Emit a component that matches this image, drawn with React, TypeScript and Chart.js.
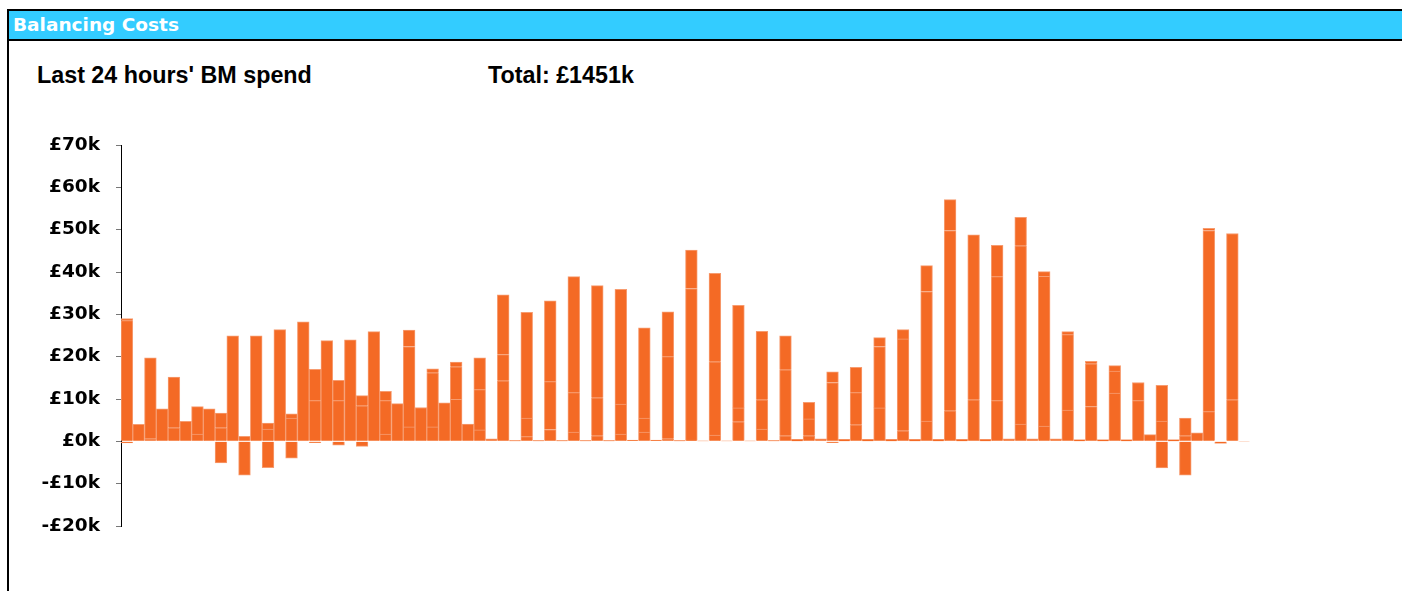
import React, { useEffect, useRef } from "react";
import { Chart, registerables } from "chart.js";

Chart.register(...registerables);

// 96 bars over the last 24 hours (values in £k)
const periods: string[] = Array.from({ length: 96 }, (_, i) => String(i + 1));

// stacked components (bottom, middle, top) and negative spend, £k
const segBottom: (number | null)[] = [
  28.5, 4.0, 0.6, 7.7, 3.2, 4.7, 1.7, 7.7, 3.2, 24.9, 1.2, 24.9, 2.9, 26.4, 5.5, 28.2,
  9.6, 23.8, 9.6, 24.0, 8.4, 25.9, 1.7, 8.9, 3.4, 8.0, 3.4, 9.1, 9.9, 4.1, 2.7, 0.6,
  14.3, 0.2, 1.1, 0.2, 2.8, 0.2, 2.2, 0.2, 1.3, 0.2, 1.7, 0.3, 2.2, 0.3, 0.6, 0.2,
  0.3, 0.1, 1.5, 0.1, 4.6, 0.1, 2.9, 0.2, 1.3, 0.5, 1.3, 0.6, 13.9, 0.5, 3.9, 0.5,
  7.9, 0.5, 2.5, 0.5, 4.8, 0.5, 7.2, 0.5, 9.8, 0.5, 9.6, 0.6, 4.1, 0.6, 3.6, 0.6,
  7.4, 0.4, 8.2, 0.4, 11.4, 0.4, 9.6, 1.6, 4.8, 0.4, 1.3, 2.0, 7.0, null, 9.8, null,
];

const segMiddle: (number | null)[] = [
  0.5, null, 19.1, null, 12.0, null, 6.5, null, 3.5, null, null, null, 1.4, null, 1.0, null,
  7.4, null, 4.8, null, 2.4, null, 7.9, null, 19.0, null, 12.8, null, 7.7, null, 9.5, null,
  6.2, null, 4.4, null, 11.3, null, 9.3, null, 9.0, null, 7.1, null, 3.3, null, 19.4, null,
  35.8, null, 17.3, null, 3.3, null, 6.9, null, 15.6, null, 4.0, null, 2.5, null, 7.6, null,
  14.5, null, 21.7, null, 30.6, null, 42.6, null, 39.0, null, 29.3, null, 42.1, null, 35.4, null,
  17.8, null, 10.1, null, 5.2, null, 4.3, null, 8.4, null, 4.2, null, 42.8, null, 39.3, null,
];

const segTop: (number | null)[] = [
  null, null, null, null, null, null, null, null, null, null, null, null, null, null, null, null,
  null, null, null, null, null, null, 2.2, null, 3.9, null, 0.9, null, 1.1, null, 7.5, null,
  14.1, null, 25.0, null, 19.1, null, 27.4, null, 26.5, null, 27.1, null, 21.3, null, 10.6, null,
  9.1, null, 20.9, null, 24.2, null, 16.2, null, 8.0, null, 3.9, null, null, null, 6.0, null,
  2.1, null, 2.2, null, 6.1, null, 7.3, null, null, null, 7.4, null, 6.7, null, 1.1, null,
  0.7, null, 0.6, null, 1.3, null, null, null, null, null, null, null, 0.5, null, null, null,
];

const segNegative: (number | null)[] = [
  -0.4, null, null, null, null, null, null, null, -5.1, null, -8.0, null, -6.2, null, -4.0, null,
  -0.3, null, -0.9, null, -1.2, null, null, null, null, null, null, null, null, null, null, null,
  null, null, null, null, null, null, null, null, null, null, null, null, null, null, null, null,
  null, null, null, null, null, null, null, null, null, null, null, null, -0.3, null, null, null,
  null, null, null, null, null, null, null, null, null, null, null, null, null, null, null, null,
  null, null, null, null, null, null, null, null, -6.3, null, -8.0, null, null, -0.5, null, -0.1,
];

const yTicks: number[] = [-20, -10, 0, 10, 20, 30, 40, 50, 60, 70];

const BAR = "#F46A25";
const EDGE = "#F79C70";

function fmt(v: number): string {
  return v < 0 ? `-£${-v}k` : `£${v}k`;
}

function BMChart() {
  const ref = useRef<HTMLCanvasElement | null>(null);
  useEffect(() => {
    if (!ref.current) return;
    const mk = (label: string, data: (number | null)[]) => ({
      label,
      data,
      backgroundColor: BAR,
      borderColor: EDGE,
      borderWidth: 1,
      borderSkipped: "start" as const,
      categoryPercentage: 1,
      barPercentage: 1,
    });
    const chart = new Chart(ref.current, {
      type: "bar",
      data: {
        labels: periods,
        datasets: [
          mk("bottom", segBottom),
          mk("middle", segMiddle),
          mk("top", segTop),
          mk("negative", segNegative),
        ],
      },
      options: {
        responsive: false,
        animation: false,
        layout: { padding: { left: 0, right: 152, top: 145, bottom: 65 } },
        plugins: { legend: { display: false }, tooltip: { enabled: false } },
        scales: {
          x: { stacked: true, display: false },
          y: {
            stacked: true,
            min: yTicks[0],
            max: yTicks[yTicks.length - 1],
            afterFit: (s: any) => {
              s.width = 121;
            },
            afterBuildTicks: (s: any) => {
              s.ticks = yTicks.map((v) => ({ value: v }));
            },
            ticks: {
              callback: (v: any) => fmt(Number(v)),
              color: "#000",
              padding: 16,
              font: { family: "DejaVu Sans", size: 18.5, weight: "bold" },
            },
            grid: {
              drawOnChartArea: false,
              drawTicks: true,
              tickLength: 5,
              color: "#777",
            },
            border: { display: true, color: "#000", width: 1 },
          },
        },
      },
    });
    return () => chart.destroy();
  }, []);
  return (
    <canvas
      ref={ref}
      width={1402}
      height={591}
      style={{ position: "absolute", left: 0, top: 0, width: 1402, height: 591 }}
    />
  );
}

export default function App() {
  return (
    <div>
      <div
        style={{
          position: "absolute",
          left: 7,
          top: 9,
          width: 1395,
          height: 582,
          boxSizing: "border-box",
          borderTop: "2px solid #000",
          borderLeft: "2px solid #000",
          background: "#fff",
        }}
      />
      <div
        style={{
          position: "absolute",
          left: 9,
          top: 11,
          width: 1393,
          height: 30,
          boxSizing: "border-box",
          background: "#33CCFF",
          borderBottom: "2px solid #000",
        }}
      />
      <div
        style={{
          position: "absolute",
          left: 13,
          top: 14,
          lineHeight: "22px",
          fontFamily: "'DejaVu Sans', sans-serif",
          fontWeight: "bold",
          fontSize: 18.5,
          color: "#fff",
          whiteSpace: "nowrap",
        }}
      >
        Balancing Costs
      </div>
      <div
        style={{
          position: "absolute",
          left: 37,
          top: 62,
          lineHeight: "26px",
          fontFamily: "'Liberation Sans', Arial, sans-serif",
          fontWeight: "bold",
          fontSize: 23.3,
          color: "#000",
          whiteSpace: "nowrap",
        }}
      >
        Last 24 hours' BM spend
      </div>
      <div
        style={{
          position: "absolute",
          left: 488,
          top: 62,
          lineHeight: "26px",
          fontFamily: "'Liberation Sans', Arial, sans-serif",
          fontWeight: "bold",
          fontSize: 23.3,
          color: "#000",
          whiteSpace: "nowrap",
        }}
      >
        Total: £1451k
      </div>
      <BMChart />
    </div>
  );
}
